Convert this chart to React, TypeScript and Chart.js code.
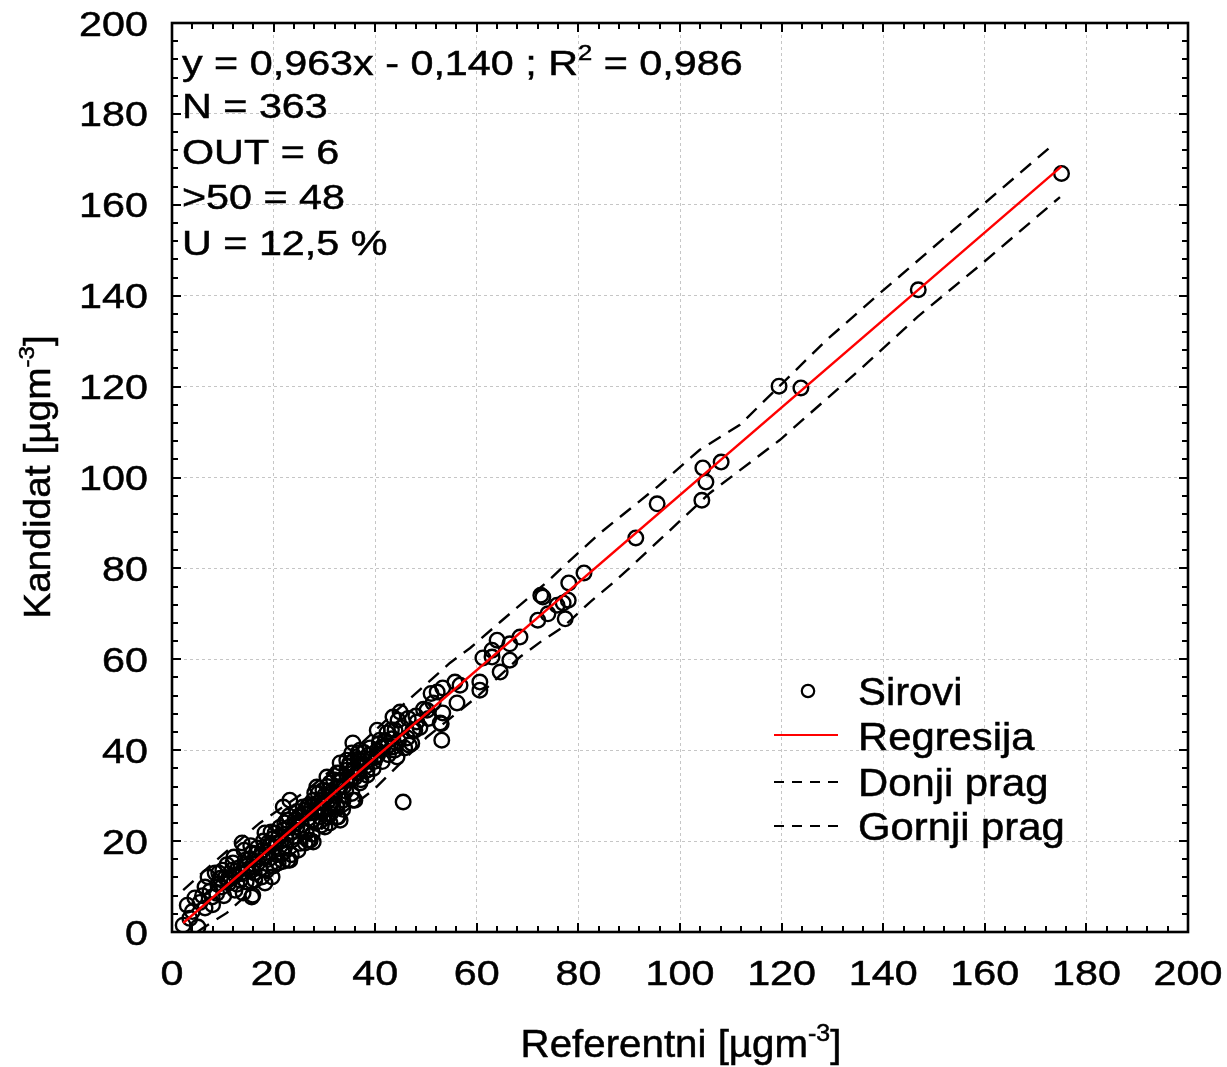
import React, { useEffect, useRef } from "react";
import { Chart, registerables } from "chart.js";

Chart.register(...registerables);

const W = 1227;
const H = 1067;

// ---- data ----
const rawX = [
  175.1, 146.9, 119.5, 123.8, 108.1, 104.5, 105.1, 104.3, 95.5, 91.3,
  81.1, 78.1, 72.6, 73.0, 78.0, 77.0, 75.8, 72.0, 74.0, 77.4,
  68.5, 64.0, 66.5, 63.0, 61.2, 63.0, 66.5, 64.6, 60.6, 60.6,
  56.7, 55.7, 53.3, 52.2, 56.1, 51.4, 50.2, 53.3, 52.8, 53.1,
  48.2, 47.4, 44.9, 44.5, 46.3, 43.9, 42.3, 40.9, 41.3, 43.5,
  40.4, 44.3, 38.6, 36.6, 35.4, 37.0, 35.0, 38.4, 36.4, 34.4,
  32.5, 33.1, 35.0, 37.0, 31.1, 29.7, 31.7, 36.0, 33.7, 31.7,
  29.7, 27.8, 26.6, 32.5, 31.1, 29.1, 27.2, 25.2, 23.2, 21.9,
  22.6, 24.6, 45.5, 53.0, 46.7, 47.8,
  2.2, 5.1, 3.0, 4.5, 6.5, 7.9, 7.1, 8.5, 6.5, 9.8,
  11.0, 10.0, 11.8, 12.4, 14.0, 15.7, 13.4, 12.0, 13.8, 14.4,
  15.7, 15.7, 16.9, 17.7, 16.3, 18.3, 18.9, 20.3, 18.3, 20.3,
  21.7, 20.9, 19.7, 18.3, 22.2, 22.8, 23.6, 22.2, 24.2, 25.6,
  26.2, 26.8, 24.8, 27.6, 26.2, 28.7, 29.5, 28.1, 31.5, 32.7,
  30.7, 30.1, 32.7,
  43.5, 40.4, 37.0, 35.6, 34.4, 33.1, 30.5, 28.5, 33.1, 35.6,
  32.5, 33.1, 27.2, 23.2, 15.9, 27.8,
  9.0, 9.5, 10.5, 11.2, 12.5, 13.0, 14.0, 14.8, 15.2, 16.0,
  16.5, 17.2, 17.8, 18.5, 19.2, 19.8, 20.5, 21.0, 21.5, 22.0,
  22.5, 23.0, 23.8, 24.5, 25.0, 25.5, 26.0, 26.8, 27.5, 28.0,
  28.8, 29.5, 30.0, 30.8, 31.5, 32.0, 33.0, 33.8, 34.5, 35.2,
  36.0, 36.8, 37.5, 38.2, 39.0, 39.8, 40.5, 41.5, 42.5, 43.2,
  3.5, 4.0, 5.5, 6.0, 7.5, 8.0, 8.8, 9.2,
  10.2, 10.8, 11.5, 12.2, 12.8, 13.5, 14.2, 14.6, 15.0, 15.5,
  16.2, 16.8, 17.4, 18.0, 18.6, 19.0, 19.5, 20.0,
  20.6, 21.2, 21.8, 22.4, 23.0, 23.5, 24.0, 24.6, 25.2, 25.8,
  26.4, 27.0, 27.6, 28.2, 28.8, 29.4, 30.0, 30.6,
  31.2, 31.8, 32.4, 33.0, 33.6, 34.2, 34.8, 35.4, 36.0, 36.6,
  37.2, 37.8, 38.4, 39.0, 39.6, 40.2,
  40.8, 41.4, 42.0, 42.6, 43.2, 43.8, 44.6, 45.2, 45.8, 46.5,
  47.2, 48.0, 48.8, 49.5, 50.5, 51.0,
];
const rawY = [
  166.9, 141.3, 120.1, 119.7, 103.4, 102.1, 99.0, 95.0, 94.2, 86.7,
  79.0, 76.8, 74.1, 73.7, 73.0, 72.4, 71.9, 68.6, 70.0, 68.9,
  64.9, 64.2, 63.4, 62.0, 60.3, 60.5, 59.8, 57.2, 55.0, 53.2,
  54.3, 55.0, 53.7, 52.8, 50.4, 50.4, 48.8, 48.2, 46.0, 42.2,
  46.2, 44.4, 48.4, 46.6, 42.7, 44.4, 43.8, 42.2, 40.7, 40.7,
  40.0, 38.5, 38.9, 39.4, 39.4, 37.8, 37.2, 35.6, 35.0, 35.6,
  35.0, 33.4, 33.4, 32.8, 32.8, 31.2, 30.6, 29.0, 29.0, 27.5,
  28.4, 29.0, 27.5, 25.3, 24.0, 25.3, 26.2, 25.3, 29.0, 27.5,
  24.6, 23.1, 28.6, 45.8, 41.1, 44.4,
  1.5, 1.1, 5.9, 7.5, 5.3, 7.7, 12.1, 13.0, 9.9, 9.9,
  11.4, 13.6, 13.6, 9.2, 8.6, 7.7, 11.4, 15.2, 19.6, 15.8,
  17.4, 13.6, 15.2, 12.1, 11.4, 16.5, 19.6, 18.7, 21.8, 21.8,
  17.4, 15.2, 12.1, 10.8, 18.7, 15.8, 20.2, 24.0, 24.6, 22.4,
  19.6, 20.2, 18.0, 24.6, 26.8, 26.8, 29.0, 30.6, 28.4, 25.3,
  25.3, 23.1, 31.9,
  47.3, 44.4, 40.0, 41.6, 37.8, 37.2, 34.1, 31.9, 31.9, 29.0,
  27.5, 24.6, 20.2, 15.8, 8.1, 19.8,
  10.5, 11.8, 12.0, 10.8, 12.5, 14.0, 12.8, 14.5, 16.0, 15.0,
  17.2, 16.5, 18.0, 17.5, 19.0, 20.5, 19.5, 21.0, 20.0, 22.5,
  21.5, 23.0, 22.0, 24.0, 25.5, 23.5, 26.0, 25.0, 27.5, 26.5,
  28.5, 27.0, 30.0, 29.0, 31.0, 30.0, 33.0, 32.0, 34.0, 33.5,
  36.0, 35.0, 37.0, 36.5, 38.0, 37.5, 39.0, 40.5, 41.0, 42.5,
  3.0, 4.5, 6.5, 8.0, 9.0, 6.0, 8.5, 13.0,
  8.0, 14.8, 12.0, 16.5, 10.5, 13.0, 18.0, 11.0, 13.8, 19.0,
  13.0, 18.5, 14.0, 20.0, 13.5, 16.0, 22.0, 14.5,
  17.0, 23.0, 15.5, 20.5, 25.5, 17.0, 21.0, 26.5, 19.5, 27.5,
  22.0, 28.0, 21.5, 24.0, 30.5, 23.5, 27.0, 32.0,
  26.0, 33.5, 28.0, 35.0, 27.0, 31.0, 36.5, 30.5, 34.0, 38.0,
  33.5, 39.5, 34.5, 40.5, 36.0, 38.5,
  41.5, 37.5, 42.0, 39.0, 44.5, 40.0, 42.0, 45.0, 40.5, 47.0,
  41.5, 47.5, 45.0, 49.0, 47.0, 52.5,
];

const regX = [2.2, 175.1];
const regY = [1.98, 168.47];

const lowerX = [5.0, 6.1, 10.8, 17.3, 29.1, 39.6, 50.2, 60.0, 68.5, 73.0, 77.0, 82.3, 86.8, 89.6, 105.9, 119.7, 131.5, 135.4, 146.7, 159.6, 174.8];
const lowerY = [0.0, 0.9, 4.2, 10.8, 22.4, 31.2, 42.9, 51.7, 60.5, 64.2, 67.1, 72.6, 76.8, 79.6, 96.6, 108.3, 119.9, 123.7, 135.3, 147.2, 161.7];

const upperX = [2.2, 8.1, 17.3, 26.6, 34.4, 43.5, 54.7, 58.7, 64.6, 73.8, 77.8, 84.3, 95.5, 103.9, 111.8, 128.9, 139.4, 159.6, 173.4];
const upperY = [9.2, 15.2, 24.0, 31.2, 38.5, 48.0, 59.2, 62.5, 68.2, 77.0, 81.2, 87.8, 97.9, 106.1, 111.6, 130.3, 140.6, 160.0, 173.2];

const legendLabels = ["Sirovi", "Regresija", "Donji prag", "Gornji prag"];
const infoLines = [
  [["y = 0,963x - 0,140 ; R", false], ["2", true], [" = 0,986", false]],
  [["N = 363", false]],
  [["OUT = 6", false]],
  [[">50 = 48", false]],
  [["U = 12,5 %", false]],
];
const xTitle = [["Referentni [µgm", false], ["-3", true], ["]", false]];
const yTitle = [["Kandidat [µgm", false], ["-3", true], ["]", false]];

const FONT = '"Liberation Sans", Arial, Helvetica, sans-serif';

function richWidth(ctx: CanvasRenderingContext2D, parts: any[], size: number, sx: number) {
  let w = 0;
  for (const [t, sup] of parts) {
    ctx.font = `${sup ? size * 0.62 : size}px ${FONT}`;
    w += ctx.measureText(t).width * sx;
  }
  return w;
}

function drawRich(
  ctx: CanvasRenderingContext2D,
  parts: any[],
  x: number,
  y: number,
  size: number,
  sx: number,
  align: "left" | "center" | "right" = "left"
) {
  const total = richWidth(ctx, parts, size, sx);
  let cx = align === "center" ? x - total / 2 : align === "right" ? x - total : x;
  for (const [t, sup] of parts) {
    const fs = sup ? size * 0.62 : size;
    ctx.font = `${fs}px ${FONT}`;
    const w = ctx.measureText(t).width * sx;
    ctx.save();
    ctx.translate(cx, sup ? y - size * 0.42 : y);
    ctx.scale(sx, 1);
    ctx.textAlign = "left";
    ctx.textBaseline = "alphabetic";
    ctx.fillText(t, 0, 0);
    ctx.lineWidth = 0.5;
    ctx.strokeStyle = "#000";
    ctx.setLineDash([]);
    ctx.strokeText(t, 0, 0);
    ctx.restore();
    cx += w;
  }
}

const decorPlugin = {
  id: "decor",
  beforeDraw(chart: any) {
    const ctx = chart.ctx;
    ctx.save();
    ctx.fillStyle = "#ffffff";
    ctx.fillRect(0, 0, chart.width, chart.height);
    ctx.restore();
  },
  afterDraw(chart: any) {
    const ctx: CanvasRenderingContext2D = chart.ctx;
    const a = chart.chartArea;
    const xs = chart.scales.x;
    const ys = chart.scales.y;
    ctx.save();
    ctx.fillStyle = "#000";
    ctx.strokeStyle = "#000";

    // inward ticks
    ctx.lineWidth = 2;
    ctx.setLineDash([]);
    const minorStep = 4;
    for (let v = xs.min; v <= xs.max + 1e-9; v += minorStep) {
      const p = Math.round(xs.getPixelForValue(v));
      const len = Math.abs(v % 20) < 1e-9 ? 9 : 6;
      ctx.beginPath();
      ctx.moveTo(p, a.bottom);
      ctx.lineTo(p, a.bottom - len);
      ctx.moveTo(p, a.top);
      ctx.lineTo(p, a.top + len);
      ctx.stroke();
    }
    for (let v = ys.min; v <= ys.max + 1e-9; v += minorStep) {
      const p = Math.round(ys.getPixelForValue(v));
      const len = Math.abs(v % 20) < 1e-9 ? 9 : 6;
      ctx.beginPath();
      ctx.moveTo(a.left, p);
      ctx.lineTo(a.left + len, p);
      ctx.moveTo(a.right, p);
      ctx.lineTo(a.right - len, p);
      ctx.stroke();
    }

    // frame
    ctx.lineWidth = 2.6;
    ctx.strokeRect(a.left, a.top, a.right - a.left, a.bottom - a.top);

    // tick labels
    const tickSize = 35;
    const tsx = 1.18;
    for (const t of xs.ticks) {
      const p = xs.getPixelForValue(t.value);
      drawRich(ctx, [[String(t.value), false]], p, 985, tickSize, tsx, "center");
    }
    for (const t of ys.ticks) {
      const p = ys.getPixelForValue(t.value);
      drawRich(ctx, [[String(t.value), false]], 148, p + tickSize * 0.358, tickSize, tsx, "right");
    }

    // axis titles
    drawRich(ctx, xTitle, 681, 1057, 38, 1.06, "center");
    ctx.save();
    ctx.translate(50, 477);
    ctx.rotate(-Math.PI / 2);
    drawRich(ctx, yTitle, 0, 0, 37, 1.05, "center");
    ctx.restore();

    // info text
    const infoBase = [75, 118, 163.5, 209, 254.5];
    infoLines.forEach((parts, i) => {
      drawRich(ctx, parts, 182, infoBase[i], 35, 1.18, "left");
    });

    // legend
    const lx0 = 774;
    const lx1 = 838;
    const tx = 858;
    ctx.lineWidth = 2.2;
    ctx.strokeStyle = "#000";
    ctx.beginPath();
    ctx.arc(808, 691, 6.2, 0, Math.PI * 2);
    ctx.stroke();
    ctx.strokeStyle = "#ff0000";
    ctx.beginPath();
    ctx.moveTo(lx0, 735);
    ctx.lineTo(lx1, 735);
    ctx.stroke();
    ctx.strokeStyle = "#000";
    ctx.setLineDash([10, 8]);
    ctx.beginPath();
    ctx.moveTo(lx0, 782);
    ctx.lineTo(lx1, 782);
    ctx.stroke();
    ctx.beginPath();
    ctx.moveTo(lx0, 826);
    ctx.lineTo(lx1, 826);
    ctx.stroke();
    ctx.setLineDash([]);
    const legBase = [705, 750, 796, 840];
    legendLabels.forEach((l, i) => {
      drawRich(ctx, [[l, false]], tx, legBase[i], 38, 1.1, "left");
    });

    ctx.restore();
  },
};

export default function App() {
  const ref = useRef<HTMLCanvasElement | null>(null);

  useEffect(() => {
    if (!ref.current) return;
    const pts = (xa: number[], ya: number[]) => xa.map((x, i) => ({ x, y: ya[i] }));
    const gridCommon = {
      color: "#c6c6c6",
      lineWidth: 1,
      drawTicks: false,
    };
    const chart = new Chart(ref.current, {
      type: "scatter",
      data: {
        datasets: [
          {
            label: legendLabels[0],
            data: pts(rawX, rawY),
            pointRadius: 7.3,
            pointHoverRadius: 7.3,
            pointBorderWidth: 2.4,
            pointBorderColor: "#000000",
            pointBackgroundColor: "rgba(0,0,0,0)",
            showLine: false,
            order: 3,
          },
          {
            label: legendLabels[1],
            data: pts(regX, regY),
            showLine: true,
            borderColor: "#ff0000",
            borderWidth: 2.4,
            pointRadius: 0,
            order: 0,
          },
          {
            label: legendLabels[2],
            data: pts(lowerX, lowerY),
            showLine: true,
            borderColor: "#000000",
            borderWidth: 2.4,
            borderDash: [14, 9],
            pointRadius: 0,
            order: 1,
          },
          {
            label: legendLabels[3],
            data: pts(upperX, upperY),
            showLine: true,
            borderColor: "#000000",
            borderWidth: 2.4,
            borderDash: [14, 9],
            pointRadius: 0,
            order: 1,
          },
        ],
      } as any,
      options: {
        animation: false,
        responsive: false,
        maintainAspectRatio: false,
        devicePixelRatio: 1,
        events: [],
        layout: { padding: { top: 23, right: 39, left: 0, bottom: 0 } },
        plugins: {
          legend: { display: false },
          title: { display: false },
          tooltip: { enabled: false },
        },
        scales: {
          x: {
            type: "linear",
            min: 0,
            max: 200,
            ticks: { stepSize: 20, display: false },
            grid: gridCommon,
            border: { display: false, dash: [3, 3] },
            afterFit: (s: any) => {
              s.height = 135;
            },
          },
          y: {
            type: "linear",
            min: 0,
            max: 200,
            ticks: { stepSize: 20, display: false },
            grid: gridCommon,
            border: { display: false, dash: [3, 3] },
            afterFit: (s: any) => {
              s.width = 172;
            },
          },
        },
      } as any,
      plugins: [decorPlugin],
    });
    return () => chart.destroy();
  }, []);

  return (
    <div style={{ position: "absolute", left: 0, top: 0, width: W, height: H, background: "#fff" }}>
      <canvas ref={ref} width={W} height={H} style={{ width: W, height: H, display: "block" }} />
    </div>
  );
}
